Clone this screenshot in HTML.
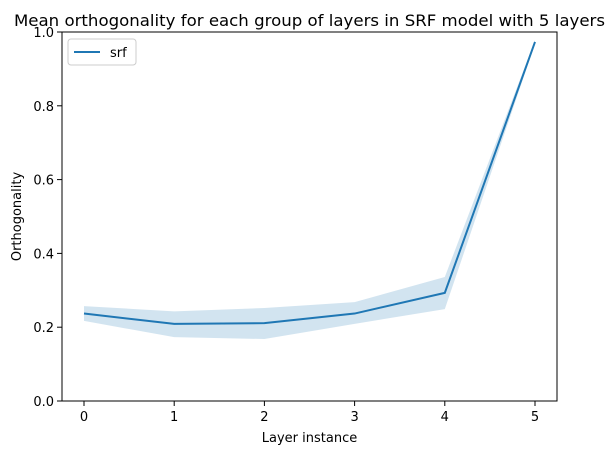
<!DOCTYPE html>
<html><head><meta charset="utf-8"><style>
body{margin:0;background:#fff;font-family:"Liberation Sans","DejaVu Sans",sans-serif;}
svg text{font-family:"DejaVu Sans","Liberation Sans",sans-serif;}
</style></head><body>
<svg id="chart" width="615" height="455" xmlns="http://www.w3.org/2000/svg"></svg>
<script>
const categories=[0,1,2,3,4,5];
const meanValues=[0.237,0.209,0.211,0.237,0.293,0.973];
const upperValues=[0.257,0.243,0.252,0.268,0.336,0.978];
const lowerValues=[0.217,0.173,0.168,0.209,0.249,0.968];
const yTicks=[0.0,0.2,0.4,0.6,0.8,1.0];
const xTicks=[0,1,2,3,4,5];

const svg=document.getElementById('chart');
const NS='http://www.w3.org/2000/svg';
const L=62,R=557,T=32,B=401;
const xs=v=>84+(535-84)*(v-0)/5;
const ys=v=>B-(B-T)*v;
function mk(tag,attrs,parent){const e=document.createElementNS(NS,tag);for(const k in attrs)e.setAttribute(k,attrs[k]);(parent||svg).appendChild(e);return e;}

let pts=categories.map((c,i)=>xs(c)+','+ys(upperValues[i]));
for(let i=categories.length-1;i>=0;i--)pts.push(xs(categories[i])+','+ys(lowerValues[i]));
const band=mk('polygon',{points:pts.join(' '),fill:'#1f77b4','fill-opacity':0.2});


const line=mk('polyline',{points:categories.map((c,i)=>xs(c)+','+ys(meanValues[i])).join(' '),fill:'none',stroke:'#1f77b4','stroke-width':2});



const frame=mk('rect',{x:L,y:T,width:R-L,height:B-T,fill:'none',stroke:'#000','stroke-width':1});



xTicks.forEach(t=>{
  mk('line',{x1:xs(t),x2:xs(t),y1:B,y2:B+5,stroke:'#000','stroke-width':1});
  const tx=mk('text',{x:xs(t),y:B+20,'text-anchor':'middle','font-size':13,fill:'#000'});
  tx.textContent=t;
  
  
});
yTicks.forEach(t=>{
  mk('line',{x1:L-5,x2:L,y1:ys(t),y2:ys(t),stroke:'#000','stroke-width':1});
  const tx=mk('text',{x:L-8,y:ys(t)+5,'text-anchor':'end','font-size':13,fill:'#000'});
  tx.textContent=t.toFixed(1);
  
  
});
const xt=mk('text',{x:(L+R)/2,y:442,'text-anchor':'middle','font-size':13});
xt.textContent='Layer instance';


const yt=mk('text',{x:21,y:(T+B)/2,'text-anchor':'middle','font-size':13,transform:'rotate(-90 21 '+((T+B)/2)+')'});
yt.textContent='Orthogonality';


const ti=mk('text',{x:14,y:26,'text-anchor':'start','font-size':16,textLength:591,lengthAdjust:'spacingAndGlyphs'});
ti.textContent='Mean orthogonality for each group of layers in SRF model with 5 layers';



const lg=mk('g',{});


mk('rect',{x:68,y:39,width:68,height:26,rx:3,fill:'#fff',stroke:'#ccc','stroke-width':1},lg);
mk('line',{x1:74,x2:100,y1:52,y2:52,stroke:'#1f77b4','stroke-width':2},lg);
const lt=mk('text',{x:110,y:57,'font-size':13},lg);
lt.textContent='srf';


</script>
</body></html>
